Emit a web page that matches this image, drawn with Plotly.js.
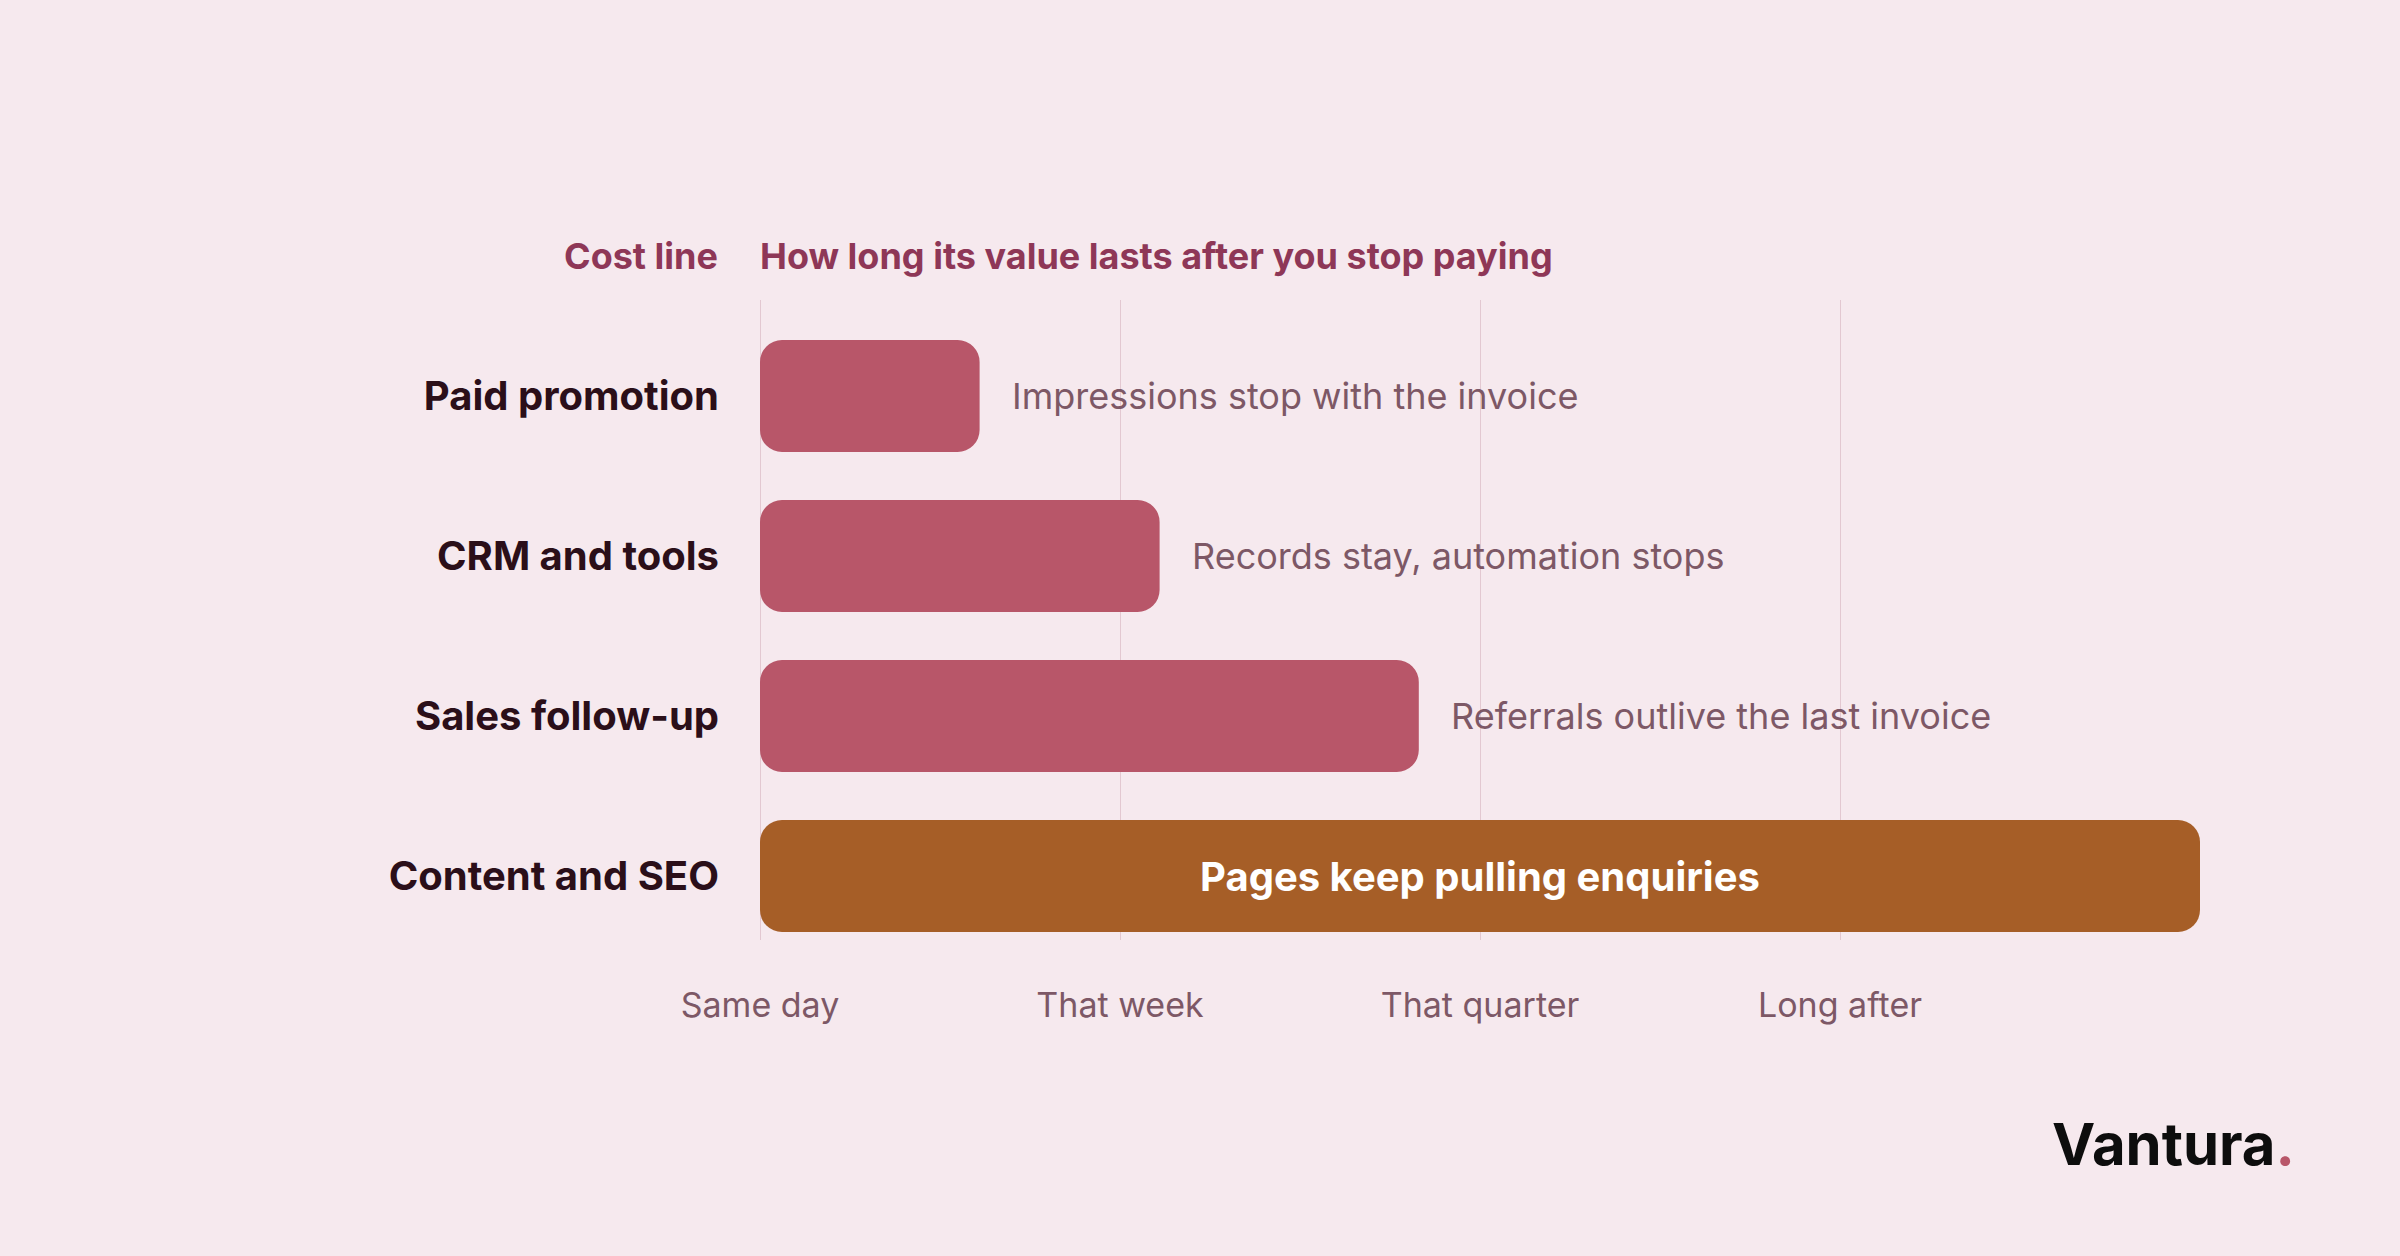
<!DOCTYPE html>
<html>
<head>
<meta charset="utf-8">
<script src="https://cdn.plot.ly/plotly-3.0.1.min.js"></script>
<style>
  html, body { margin: 0; padding: 0; background: #F6E9EE; }
  #chart { width: 2400px; height: 1256px; }
</style>
</head>
<body>
<div id="chart"></div>
<script>
// ---- data ----
const costLines = ["Paid promotion", "CRM and tools", "Sales follow-up", "Content and SEO"];
const valueDuration = [0.61, 1.11, 1.83, 4.0];
const barStart = [0, 0, 0, 0];
const notes = ["Impressions stop with the invoice", "Records stay, automation stops", "Referrals outlive the last invoice", "Pages keep pulling enquiries"];
const noteInside = [false, false, false, true];
const tickValues = [0, 1, 2, 3];
const tickLabels = ["Same day", "That week", "That quarter", "Long after"];
const headerLeft = "Cost line";
const headerRight = "How long its value lasts after you stop paying";
const brand = "Vantura";

// ---- styles ----
const BG = "#F6E9EE";
const PINK = "#B85669";
const ORANGE = "#A65E27";
const DARK = "#2B0F19";
const MUTED = "#7D5866";
const HEAD = "#8E3757";
const GRID = "#E3C8D1";
const FONT = "Inter, 'Noto Sans', sans-serif";

const colors = noteInside.map(v => v ? ORANGE : PINK);

const bars = {
  type: "bar", orientation: "h",
  y: costLines,
  base: barStart,
  x: valueDuration,
  width: 0.7,
  marker: { color: colors, line: { width: 0 } },
  hoverinfo: "skip", showlegend: false
};

const annotations = [];
costLines.forEach((c, i) => {
  if (noteInside[i]) {
    annotations.push({
      x: (barStart[i] + valueDuration[i]) / 2, y: c, xref: "x", yref: "y",
      text: notes[i], showarrow: false, xanchor: "center", yanchor: "middle",
      font: { family: FONT, size: 40, color: "#FFFFFF", weight: 700 }
    });
  } else {
    annotations.push({
      x: valueDuration[i], y: c, xref: "x", yref: "y",
      text: notes[i], showarrow: false, xanchor: "left", yanchor: "middle",
      xshift: 30,
      font: { family: FONT, size: 36, color: MUTED }
    });
  }
});
annotations.push({
  x: 0, y: 1.069, xref: "paper", yref: "paper", xanchor: "right", yanchor: "middle",
  xshift: -40, text: headerLeft, showarrow: false,
  font: { family: FONT, size: 36, color: HEAD, weight: 700 }
});
annotations.push({
  x: 0, y: 1.069, xref: "paper", yref: "paper", xanchor: "left", yanchor: "middle",
  xshift: -2, text: headerRight, showarrow: false,
  font: { family: FONT, size: 36, color: HEAD, weight: 700 }
});
annotations.push({
  x: 0.8767, y: -0.31875, xref: "paper", yref: "paper", xanchor: "left", yanchor: "middle",
  xshift: -4,
  text: brand + "<span style='color:" + PINK + "'>.</span>", showarrow: false,
  font: { family: FONT, size: 58, color: "#0D0D0D", weight: 700 }
});

const layout = {
  width: 2400, height: 1256,
  paper_bgcolor: BG, plot_bgcolor: BG,
  margin: { l: 760, r: 164, t: 300, b: 316 },
  barmode: "overlay",
  barcornerradius: 22,
  xaxis: {
    range: [0, 4.1], tickvals: tickValues, ticktext: tickLabels,
    showgrid: true, gridcolor: GRID, gridwidth: 1,
    zeroline: true, zerolinecolor: GRID, zerolinewidth: 1,
    showline: false, ticks: "", ticklabelstandoff: 42,
    tickfont: { family: FONT, size: 34, color: MUTED },
    fixedrange: true
  },
  yaxis: {
    type: "category", categoryarray: costLines,
    range: [3.4, -0.6],
    showgrid: false, zeroline: false, showline: false, ticks: "",
    ticklabelstandoff: 40,
    tickfont: { family: FONT, size: 40, color: DARK, weight: 700 },
    fixedrange: true
  },
  annotations: annotations,
  hovermode: false
};

Plotly.newPlot("chart", [bars], layout, { displayModeBar: false, staticPlot: true });
</script>
</body>
</html>
